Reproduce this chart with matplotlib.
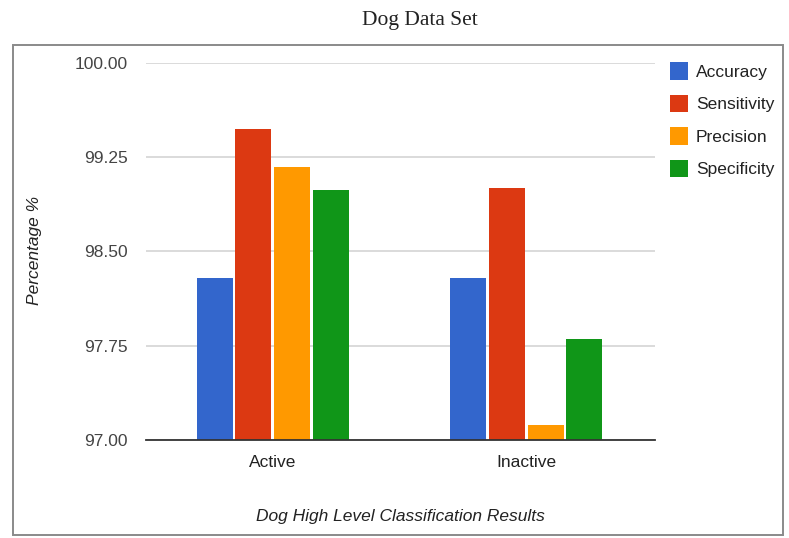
import matplotlib
matplotlib.use("Agg")
import matplotlib.pyplot as plt
import numpy as np
from matplotlib.patches import Rectangle

# Data
categories = ["Active", "Inactive"]
series_names = ["Accuracy", "Sensitivity", "Precision", "Specificity"]
accuracy = [98.29, 98.29]
sensitivity = [99.47, 99.00]
precision = [99.17, 97.12]
specificity = [98.99, 97.80]
series_values = [accuracy, sensitivity, precision, specificity]
colors = ["#3366cc", "#dc3912", "#ff9900", "#109618"]
y_ticks = [97.00, 97.75, 98.50, 99.25, 100.00]

plt.rcParams["font.family"] = ["Liberation Sans", "DejaVu Sans"]

W, H = 789, 538
fig = plt.figure(figsize=(W / 100, H / 100), dpi=100)
fig.patch.set_facecolor("white")

# Framed chart panel
fig.patches.append(Rectangle((13 / W, 1 - 535 / H), (783 - 13) / W, (535 - 45) / H,
                             transform=fig.transFigure, fill=False,
                             edgecolor="#8a8a8a", linewidth=1.4))

fig.text(420 / W, 1 - 20 / H, "Dog Data Set", ha="center", va="center",
         fontsize=15.5, family=["Liberation Serif", "DejaVu Serif"], color="#222222")

ax = fig.add_axes([146 / W, 1 - 440 / H, (655 - 146) / W, (440 - 62.7) / H])

x = np.arange(len(categories))
bar_w = 0.142
step = 0.153
n = len(series_values)
for i, (name, vals, c) in enumerate(zip(series_names, series_values, colors)):
    offs = (i - (n - 1) / 2) * step
    ax.bar(x + offs, np.array(vals) - 97.0, bottom=97.0, width=bar_w,
           color=c, label=name, zorder=3, linewidth=0)

ax.set_xlim(-0.5, 1.508)
ax.set_ylim(97.0, 100.0)
ax.set_yticks(y_ticks)
ax.set_yticklabels([f"{v:.2f}" for v in y_ticks])
ax.set_xticks(x)
ax.set_xticklabels(categories)
ax.tick_params(axis="both", length=0, labelsize=12.5, colors="#444444")
ax.tick_params(axis="y", pad=13)
ax.tick_params(axis="x", pad=11)
for t in ax.get_xticklabels():
    t.set_color("#222222")

ax.grid(axis="y", color="#d4d4d4", linewidth=1.2, zorder=0)
for s in ["top", "right", "left"]:
    ax.spines[s].set_visible(False)
ax.spines["bottom"].set_color("#333333")
ax.spines["bottom"].set_linewidth(1.3)
ax.spines["bottom"].set_zorder(4)

fig.text(35 / W, 1 - 250 / H, "Percentage %", rotation=90, ha="center", va="center",
         fontsize=12.5, style="italic", color="#222222")
fig.text(400 / W, 1 - 517 / H, "Dog High Level Classification Results",
         ha="center", va="center", fontsize=12.5, style="italic", color="#222222")

handles = [Rectangle((0, 0), 1, 1, facecolor=c, edgecolor="none") for c in colors]
fig.legend(handles, series_names, loc="upper left",
           bbox_to_anchor=(670 / W, 1 - 62 / H), frameon=False,
           handlelength=1.05, handleheight=1.2, handletextpad=0.45,
           labelspacing=0.85, fontsize=12.5, labelcolor="#222222",
           borderaxespad=0, borderpad=0)

fig.savefig("out.png", dpi=100)
